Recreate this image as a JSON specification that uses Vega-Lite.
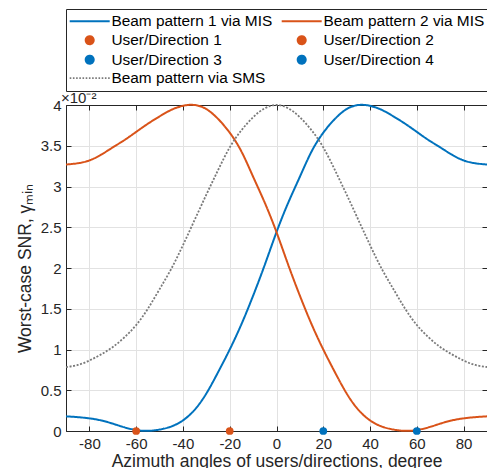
{
  "$schema": "https://vega.github.io/schema/vega-lite/v6.json",
  "width": 421,
  "height": 326,
  "autosize": "none",
  "padding": {"left": 66, "top": 105, "right": 0, "bottom": 37},
  "background": "white",
  "config": {"view": {"stroke": "#262626", "strokeWidth": 1}, "font": "Liberation Sans"},
  "datasets": {
    "curves": [
      {"angle": -90, "snr": 0.18, "series": "Beam pattern 1 via MIS"},
      {"angle": -85, "snr": 0.17, "series": "Beam pattern 1 via MIS"},
      {"angle": -80, "snr": 0.155, "series": "Beam pattern 1 via MIS"},
      {"angle": -75, "snr": 0.13, "series": "Beam pattern 1 via MIS"},
      {"angle": -70, "snr": 0.09, "series": "Beam pattern 1 via MIS"},
      {"angle": -65, "snr": 0.045, "series": "Beam pattern 1 via MIS"},
      {"angle": -60, "snr": 0.012, "series": "Beam pattern 1 via MIS"},
      {"angle": -55, "snr": 0.002, "series": "Beam pattern 1 via MIS"},
      {"angle": -50, "snr": 0.018, "series": "Beam pattern 1 via MIS"},
      {"angle": -45, "snr": 0.055, "series": "Beam pattern 1 via MIS"},
      {"angle": -40, "snr": 0.13, "series": "Beam pattern 1 via MIS"},
      {"angle": -35, "snr": 0.26, "series": "Beam pattern 1 via MIS"},
      {"angle": -30, "snr": 0.46, "series": "Beam pattern 1 via MIS"},
      {"angle": -25, "snr": 0.72, "series": "Beam pattern 1 via MIS"},
      {"angle": -20, "snr": 1.0, "series": "Beam pattern 1 via MIS"},
      {"angle": -15, "snr": 1.31, "series": "Beam pattern 1 via MIS"},
      {"angle": -10, "snr": 1.66, "series": "Beam pattern 1 via MIS"},
      {"angle": -5, "snr": 2.04, "series": "Beam pattern 1 via MIS"},
      {"angle": 0, "snr": 2.44, "series": "Beam pattern 1 via MIS"},
      {"angle": 5, "snr": 2.8, "series": "Beam pattern 1 via MIS"},
      {"angle": 10, "snr": 3.12, "series": "Beam pattern 1 via MIS"},
      {"angle": 15, "snr": 3.43, "series": "Beam pattern 1 via MIS"},
      {"angle": 20, "snr": 3.66, "series": "Beam pattern 1 via MIS"},
      {"angle": 25, "snr": 3.83, "series": "Beam pattern 1 via MIS"},
      {"angle": 30, "snr": 3.95, "series": "Beam pattern 1 via MIS"},
      {"angle": 35, "snr": 4.0, "series": "Beam pattern 1 via MIS"},
      {"angle": 40, "snr": 3.99, "series": "Beam pattern 1 via MIS"},
      {"angle": 45, "snr": 3.94, "series": "Beam pattern 1 via MIS"},
      {"angle": 50, "snr": 3.86, "series": "Beam pattern 1 via MIS"},
      {"angle": 55, "snr": 3.77, "series": "Beam pattern 1 via MIS"},
      {"angle": 60, "snr": 3.67, "series": "Beam pattern 1 via MIS"},
      {"angle": 65, "snr": 3.57, "series": "Beam pattern 1 via MIS"},
      {"angle": 70, "snr": 3.48, "series": "Beam pattern 1 via MIS"},
      {"angle": 75, "snr": 3.39, "series": "Beam pattern 1 via MIS"},
      {"angle": 80, "snr": 3.32, "series": "Beam pattern 1 via MIS"},
      {"angle": 85, "snr": 3.285, "series": "Beam pattern 1 via MIS"},
      {"angle": 90, "snr": 3.27, "series": "Beam pattern 1 via MIS"},

      {"angle": -90, "snr": 3.27, "series": "Beam pattern 2 via MIS"},
      {"angle": -85, "snr": 3.285, "series": "Beam pattern 2 via MIS"},
      {"angle": -80, "snr": 3.32, "series": "Beam pattern 2 via MIS"},
      {"angle": -75, "snr": 3.39, "series": "Beam pattern 2 via MIS"},
      {"angle": -70, "snr": 3.48, "series": "Beam pattern 2 via MIS"},
      {"angle": -65, "snr": 3.57, "series": "Beam pattern 2 via MIS"},
      {"angle": -60, "snr": 3.67, "series": "Beam pattern 2 via MIS"},
      {"angle": -55, "snr": 3.77, "series": "Beam pattern 2 via MIS"},
      {"angle": -50, "snr": 3.86, "series": "Beam pattern 2 via MIS"},
      {"angle": -45, "snr": 3.94, "series": "Beam pattern 2 via MIS"},
      {"angle": -40, "snr": 3.99, "series": "Beam pattern 2 via MIS"},
      {"angle": -35, "snr": 4.0, "series": "Beam pattern 2 via MIS"},
      {"angle": -30, "snr": 3.95, "series": "Beam pattern 2 via MIS"},
      {"angle": -25, "snr": 3.83, "series": "Beam pattern 2 via MIS"},
      {"angle": -20, "snr": 3.66, "series": "Beam pattern 2 via MIS"},
      {"angle": -15, "snr": 3.43, "series": "Beam pattern 2 via MIS"},
      {"angle": -10, "snr": 3.12, "series": "Beam pattern 2 via MIS"},
      {"angle": -5, "snr": 2.8, "series": "Beam pattern 2 via MIS"},
      {"angle": 0, "snr": 2.44, "series": "Beam pattern 2 via MIS"},
      {"angle": 5, "snr": 2.04, "series": "Beam pattern 2 via MIS"},
      {"angle": 10, "snr": 1.66, "series": "Beam pattern 2 via MIS"},
      {"angle": 15, "snr": 1.31, "series": "Beam pattern 2 via MIS"},
      {"angle": 20, "snr": 1.0, "series": "Beam pattern 2 via MIS"},
      {"angle": 25, "snr": 0.72, "series": "Beam pattern 2 via MIS"},
      {"angle": 30, "snr": 0.46, "series": "Beam pattern 2 via MIS"},
      {"angle": 35, "snr": 0.26, "series": "Beam pattern 2 via MIS"},
      {"angle": 40, "snr": 0.13, "series": "Beam pattern 2 via MIS"},
      {"angle": 45, "snr": 0.055, "series": "Beam pattern 2 via MIS"},
      {"angle": 50, "snr": 0.018, "series": "Beam pattern 2 via MIS"},
      {"angle": 55, "snr": 0.002, "series": "Beam pattern 2 via MIS"},
      {"angle": 60, "snr": 0.012, "series": "Beam pattern 2 via MIS"},
      {"angle": 65, "snr": 0.045, "series": "Beam pattern 2 via MIS"},
      {"angle": 70, "snr": 0.09, "series": "Beam pattern 2 via MIS"},
      {"angle": 75, "snr": 0.13, "series": "Beam pattern 2 via MIS"},
      {"angle": 80, "snr": 0.155, "series": "Beam pattern 2 via MIS"},
      {"angle": 85, "snr": 0.17, "series": "Beam pattern 2 via MIS"},
      {"angle": 90, "snr": 0.18, "series": "Beam pattern 2 via MIS"},

      {"angle": -90, "snr": 0.785, "series": "Beam pattern via SMS"},
      {"angle": -85, "snr": 0.81, "series": "Beam pattern via SMS"},
      {"angle": -80, "snr": 0.865, "series": "Beam pattern via SMS"},
      {"angle": -75, "snr": 0.94, "series": "Beam pattern via SMS"},
      {"angle": -70, "snr": 1.03, "series": "Beam pattern via SMS"},
      {"angle": -65, "snr": 1.15, "series": "Beam pattern via SMS"},
      {"angle": -60, "snr": 1.3, "series": "Beam pattern via SMS"},
      {"angle": -55, "snr": 1.5, "series": "Beam pattern via SMS"},
      {"angle": -50, "snr": 1.74, "series": "Beam pattern via SMS"},
      {"angle": -45, "snr": 1.99, "series": "Beam pattern via SMS"},
      {"angle": -40, "snr": 2.28, "series": "Beam pattern via SMS"},
      {"angle": -35, "snr": 2.59, "series": "Beam pattern via SMS"},
      {"angle": -30, "snr": 2.9, "series": "Beam pattern via SMS"},
      {"angle": -25, "snr": 3.2, "series": "Beam pattern via SMS"},
      {"angle": -20, "snr": 3.48, "series": "Beam pattern via SMS"},
      {"angle": -15, "snr": 3.69, "series": "Beam pattern via SMS"},
      {"angle": -10, "snr": 3.85, "series": "Beam pattern via SMS"},
      {"angle": -5, "snr": 3.96, "series": "Beam pattern via SMS"},
      {"angle": 0, "snr": 4.0, "series": "Beam pattern via SMS"},
      {"angle": 5, "snr": 3.96, "series": "Beam pattern via SMS"},
      {"angle": 10, "snr": 3.85, "series": "Beam pattern via SMS"},
      {"angle": 15, "snr": 3.69, "series": "Beam pattern via SMS"},
      {"angle": 20, "snr": 3.48, "series": "Beam pattern via SMS"},
      {"angle": 25, "snr": 3.2, "series": "Beam pattern via SMS"},
      {"angle": 30, "snr": 2.9, "series": "Beam pattern via SMS"},
      {"angle": 35, "snr": 2.59, "series": "Beam pattern via SMS"},
      {"angle": 40, "snr": 2.28, "series": "Beam pattern via SMS"},
      {"angle": 45, "snr": 1.99, "series": "Beam pattern via SMS"},
      {"angle": 50, "snr": 1.74, "series": "Beam pattern via SMS"},
      {"angle": 55, "snr": 1.5, "series": "Beam pattern via SMS"},
      {"angle": 60, "snr": 1.3, "series": "Beam pattern via SMS"},
      {"angle": 65, "snr": 1.15, "series": "Beam pattern via SMS"},
      {"angle": 70, "snr": 1.03, "series": "Beam pattern via SMS"},
      {"angle": 75, "snr": 0.94, "series": "Beam pattern via SMS"},
      {"angle": 80, "snr": 0.865, "series": "Beam pattern via SMS"},
      {"angle": 85, "snr": 0.81, "series": "Beam pattern via SMS"},
      {"angle": 90, "snr": 0.785, "series": "Beam pattern via SMS"}
    ],
    "users": [
      {"angle": -60, "snr": 0, "series": "User/Direction 1"},
      {"angle": -20, "snr": 0, "series": "User/Direction 2"},
      {"angle": 20, "snr": 0, "series": "User/Direction 3"},
      {"angle": 60, "snr": 0, "series": "User/Direction 4"}
    ]
  },
  "layer": [
    {
      "data": {"name": "curves"},
      "mark": {"type": "line", "interpolate": "natural"},
      "encoding": {
        "x": {
          "field": "angle", "type": "quantitative",
          "scale": {"domain": [-90, 90], "nice": false, "zero": false},
          "axis": {
            "orient": "bottom", "values": [-80, -60, -40, -20, 0, 20, 40, 60, 80],
            "labelExpr": "'' + datum.value", "labelFontSize": 15, "labelColor": "#262626",
            "labelPadding": 10, "tickSize": -5, "tickColor": "#262626", "domainColor": "#262626",
            "grid": true, "gridColor": "#e2e2e2", "labelFlush": false, "labelOverlap": false,
            "title": "Azimuth angles of users/directions, degree", "titleFontSize": 17.5,
            "titleFontWeight": "normal", "titleColor": "#262626", "titlePadding": 1
          }
        },
        "y": {
          "field": "snr", "type": "quantitative",
          "scale": {"domain": [0, 4], "nice": false, "zero": false},
          "axis": {
            "orient": "left", "values": [0, 0.5, 1, 1.5, 2, 2.5, 3, 3.5, 4],
            "labelExpr": "'' + datum.value", "labelFontSize": 15, "labelColor": "#262626",
            "labelPadding": 10, "tickSize": -5, "tickColor": "#262626", "domainColor": "#262626",
            "grid": true, "gridColor": "#e2e2e2", "labelFlush": false, "labelOverlap": false,
            "title": "Worst-case SNR, γₘᵢₙ", "titleFontSize": 17.5,
            "titleFontWeight": "normal", "titleColor": "#262626", "titlePadding": 6
          }
        },
        "color": {
          "field": "series", "type": "nominal",
          "scale": {
            "domain": ["Beam pattern 1 via MIS", "User/Direction 1", "User/Direction 3", "Beam pattern via SMS", "Beam pattern 2 via MIS", "User/Direction 2", "User/Direction 4"],
            "range": ["#0072BD", "#D95319", "#0072BD", "#7a7a7a", "#D95319", "#D95319", "#0072BD"]
          },
          "legend": {
            "orient": "none", "legendX": 0, "legendY": -96, "columns": 2, "title": null,
            "symbolSize": 64, "symbolOffset": 12, "labelOffset": 14,
            "labelFontSize": 15.4, "labelFont": "Liberation Sans", "labelColor": "#000000", "labelLimit": 400,
            "rowPadding": 1.5, "columnPadding": 4, "padding": 4,
            "strokeColor": "#262626", "fillColor": "white",
            "encode": {
              "symbols": {
                "update": {
                  "shape": {"signal": "indexof(datum.value, 'User') === 0 ? 'circle' : 'M-5,0H5'"},
                  "fill": {"signal": "indexof(datum.value, 'User') === 0 ? scale('color', datum.value) : 'transparent'"},
                  "stroke": {"signal": "indexof(datum.value, 'User') === 0 ? 'transparent' : scale('color', datum.value)"},
                  "strokeWidth": {"signal": "datum.value === 'Beam pattern via SMS' ? 1.8 : 2"},
                  "strokeDash": {"signal": "datum.value === 'Beam pattern via SMS' ? [1.6, 1.6] : [1, 0]"},
                  "opacity": {"value": 1}
                }
              }
            }
          }
        },
        "strokeDash": {"condition": {"test": "datum.series === 'Beam pattern via SMS'", "value": [2, 1.6]}, "value": [1, 0]},
        "strokeWidth": {"condition": {"test": "datum.series === 'Beam pattern via SMS'", "value": 1.8}, "value": 2}
      }
    },
    {
      "data": {"name": "users"},
      "mark": {"type": "point", "filled": true, "size": 60, "opacity": 1},
      "encoding": {
        "x": {
          "field": "angle", "type": "quantitative",
          "axis": {"orient": "top", "values": [-80, -60, -40, -20, 0, 20, 40, 60, 80], "labels": false, "grid": false, "tickSize": -5, "tickColor": "#262626", "domainColor": "#262626", "title": null}
        },
        "y": {
          "field": "snr", "type": "quantitative",
          "axis": {"orient": "right", "values": [0, 0.5, 1, 1.5, 2, 2.5, 3, 3.5, 4], "labels": false, "grid": false, "tickSize": -5, "tickColor": "#262626", "domainColor": "#262626", "title": null}
        },
        "color": {"field": "series", "type": "nominal"}
      }
    },
    {
      "data": {"values": [{"note": "exponent"}]},
      "mark": {"type": "text", "align": "left", "baseline": "alphabetic", "dx": -5, "dy": -2, "fontSize": 15, "color": "#262626"},
      "encoding": {
        "x": {"datum": -90, "type": "quantitative", "axis": null},
        "y": {"datum": 4, "type": "quantitative", "axis": null},
        "text": {"value": "×10⁻²"}
      }
    }
  ],
  "resolve": {"axis": {"x": "independent", "y": "independent"}}
}
